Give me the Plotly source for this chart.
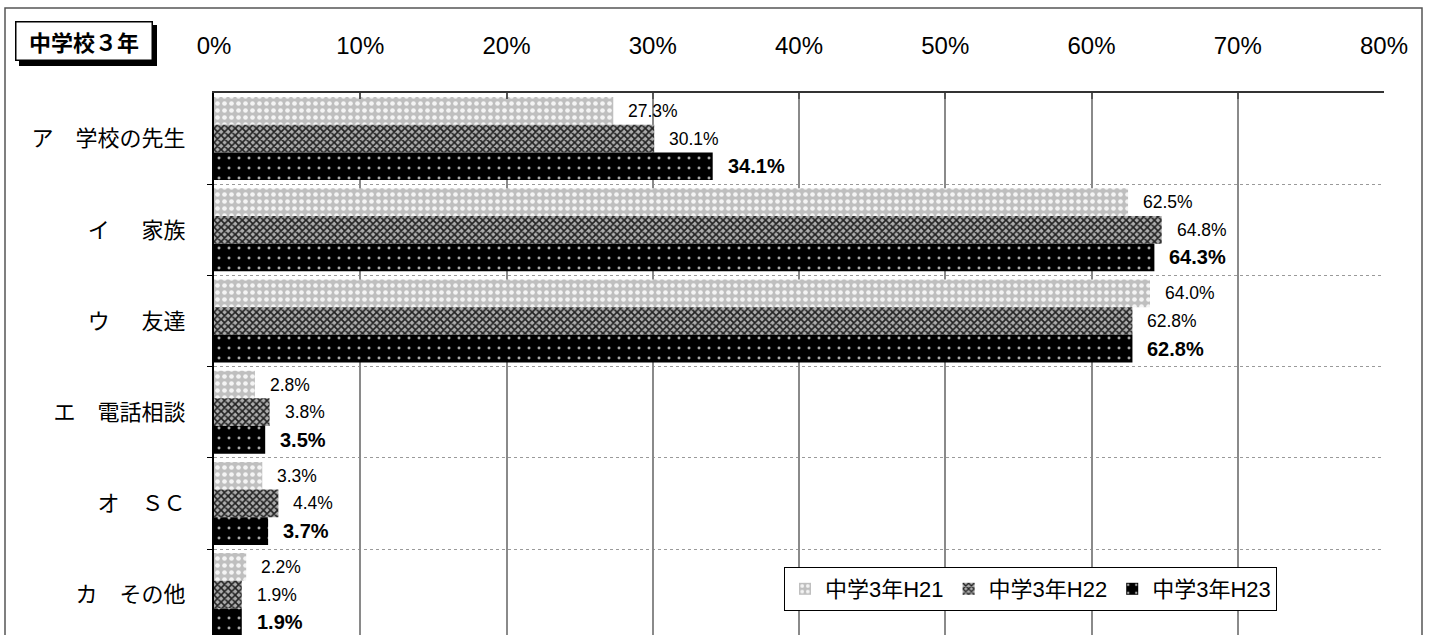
import plotly.graph_objects as go

# Survey: who students consult (junior high, 3rd year), share of respondents in %
categories = [
    "ア\u3000学校の先生",
    "イ\u3000\u00a0\u00a0家族",
    "ウ\u3000\u00a0\u00a0友達",
    "エ\u3000電話相談",
    "オ\u3000ＳＣ",
    "カ\u3000その他",
]
series_names = ["中学3年H21", "中学3年H22", "中学3年H23"]
h21 = [27.3, 62.5, 64.0, 2.8, 3.3, 2.2]
h22 = [30.1, 64.8, 62.8, 3.8, 4.4, 1.9]
h23 = [34.1, 64.3, 62.8, 3.5, 3.7, 1.9]
x_ticks = [0, 10, 20, 30, 40, 50, 60, 70, 80]
x_tick_labels = ["0%", "10%", "20%", "30%", "40%", "50%", "60%", "70%", "80%"]
panel_title = "中学校３年"

W, H = 1431, 635
L, R, T, B = 214, 47, 93, 0
PW, PH = W - L - R, H - T - B

LATIN = "Liberation Sans, Arial, sans-serif"
CJK = "Noto Sans CJK JP"

BARGAP = 0.09
band_px = 91.2
y_bottom = -0.5 + PH / band_px

patterns = [
    dict(shape=".", bgcolor="#bfbfbf", fgcolor="#f4f4f4", size=7, solidity=0.35),
    dict(shape="x", bgcolor="#adadad", fgcolor="#222222", size=5, solidity=0.55),
    dict(shape=".", bgcolor="#000000", fgcolor="#a8a8a8", size=10, solidity=0.07),
]

ypos = list(range(len(categories)))
fig = go.Figure()
for name, vals, pat in zip(series_names, [h21, h22, h23], patterns):
    fig.add_trace(go.Bar(
        name=name, x=vals, y=ypos, orientation="h",
        marker=dict(color=pat["bgcolor"], pattern=dict(fillmode="replace", **pat),
                    line=dict(width=0)),
        hoverinfo="skip",
    ))

# value labels beside each bar
w = (1 - BARGAP) / 3
annotations = []
for k, vals in enumerate([h21, h22, h23]):
    off = (k - 1) * w
    bold = k == 2
    for i, v in enumerate(vals):
        txt = f"{v:.1f}%"
        annotations.append(dict(
            x=v, y=i + off, xref="x", yref="y",
            text=f"<b>{txt}</b>" if bold else txt,
            showarrow=False, xanchor="left", yanchor="middle", xshift=13,
            font=dict(family=LATIN, size=20 if bold else 17.5, color="#000"),
        ))

def px_x(X):
    return (X - L) / PW

def px_y(Y):
    return (H - Y) / PH

# panel title box with drop shadow
annotations.append(dict(
    x=px_x(83.5), y=px_y(40.5), xref="paper", yref="paper",
    xanchor="center", yanchor="middle",
    text=f"<b>{panel_title}</b>", showarrow=False,
    font=dict(family=CJK, size=22, color="#000"),
    bgcolor="#ffffff", bordercolor="#000000", borderwidth=1.5,
    width=133, height=35, borderpad=1,
))

shapes = [
    # shadow behind the title box
    dict(type="rect", xref="paper", yref="paper",
         x0=px_x(19), x1=px_x(157), y0=px_y(66), y1=px_y(25),
         fillcolor="#000", line=dict(width=0), layer="above"),
    # outer frame
    dict(type="rect", xref="paper", yref="paper",
         x0=px_x(5), x1=px_x(1422), y0=px_y(645), y1=px_y(8),
         fillcolor="rgba(0,0,0,0)", line=dict(color="#555", width=1.5), layer="above"),
]

fig.update_layout(
    width=W, height=H,
    margin=dict(l=L, r=R, t=T, b=B, pad=0),
    paper_bgcolor="#fff", plot_bgcolor="#fff",
    barmode="group", bargap=BARGAP, bargroupgap=0,
    font=dict(family=CJK, color="#000"),
    annotations=annotations, shapes=shapes,
    showlegend=True,
    legend=dict(
        orientation="h", x=px_x(784), y=px_y(567), xanchor="left", yanchor="top",
        bgcolor="#fff", bordercolor="#000", borderwidth=1,
        font=dict(family=LATIN + ", " + CJK, size=22, color="#000"),
        itemwidth=30, traceorder="normal",
    ),
    xaxis=dict(
        side="top", range=[0, 80], tickvals=x_ticks, ticktext=x_tick_labels,
        showgrid=True, gridcolor="#8a8a8a", gridwidth=1.5,
        showline=True, linecolor="#333", linewidth=1.5,
        ticks="inside", ticklen=6, tickcolor="#555", tickwidth=1.5,
        tickfont=dict(family=LATIN, size=24, color="#000"),
        ticklabelstandoff=28, zeroline=False, fixedrange=True,
    ),
    yaxis=dict(
        range=[y_bottom, -0.5], tickvals=ypos, ticktext=categories,
        showgrid=False, zeroline=False,
        showline=True, linecolor="#000", linewidth=2,
        ticks="", ticklabelstandoff=22,
        tickfont=dict(family=CJK, size=22, color="#000"),
        minor=dict(tickvals=[i + 0.5 for i in ypos[:-1]], showgrid=True,
                   gridcolor="#9a9a9a", griddash="dot", gridwidth=1,
                   ticks="outside", ticklen=5, tickcolor="#000", tickwidth=1),
        fixedrange=True,
    ),
)

fig.write_html("out.html")
